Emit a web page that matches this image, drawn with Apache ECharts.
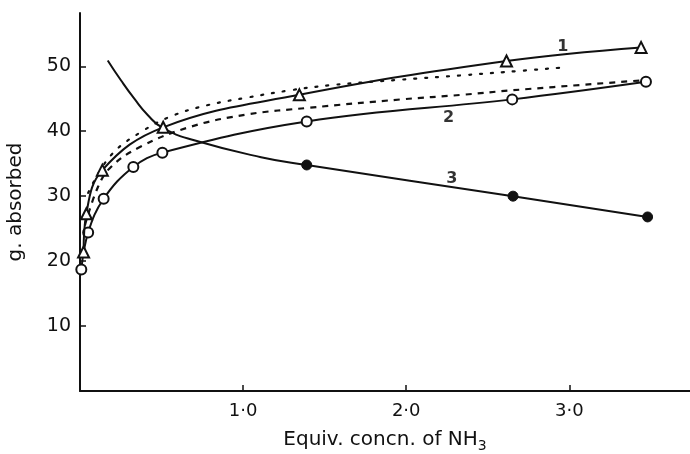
<!DOCTYPE html>
<html>
<head>
<meta charset="utf-8">
<script src="https://cdn.jsdelivr.net/npm/echarts@6/dist/echarts.min.js"></script>
<style>
  html, body { margin: 0; padding: 0; background: #fff; }
  #chart { width: 690px; height: 454px; }
</style>
</head>
<body>
<div id="chart"></div>
<script>
// values: [equiv. concn. of NH3, g. absorbed]
const curve1Pts = [[0.022, 21.4], [0.039, 27.3], [0.137, 34.0], [0.51, 40.6], [1.345, 45.6], [2.615, 50.8], [3.44, 52.9]];
const curve2Pts = [[0.008, 18.7], [0.05, 24.4], [0.145, 29.6], [0.327, 34.5], [0.505, 36.7], [1.39, 41.5], [2.65, 44.9], [3.47, 47.6]];
// curve 3: unmarked start of the curve, then the filled points
const curve3Line = [[0.17, 50.9], [0.252, 47.8], [0.333, 45.0], [0.415, 42.5], [0.507, 40.5], [0.7, 38.6], [1.11, 36.0]];
const curve3Pts = [[1.39, 34.8], [2.655, 30.0], [3.48, 26.8]];
const dottedPts = [[0.05, 30.5], [0.19, 36.3], [0.395, 40.2], [0.58, 42.5], [0.78, 44.0], [1.03, 45.2], [1.29, 46.3], [1.54, 47.1], [1.95, 47.9], [2.34, 48.6], [2.6, 49.1], [2.96, 49.8]];
const dashedPts = [[0.03, 25.5], [0.11, 31.4], [0.19, 34.5], [0.37, 37.6], [0.68, 40.7], [1.03, 42.6], [1.4, 43.6], [1.97, 44.9], [2.34, 45.6], [2.65, 46.3], [3.43, 47.8]];
const curveLabels = [['1', 2.96, 53.0], ['2', 2.26, 42.1], ['3', 2.28, 32.7]];
const xTicks = [1, 2, 3];
const yTicks = [10, 20, 30, 40, 50];

const font = 'DejaVu Sans';
const ink = '#111';

var chartDom = document.getElementById('chart');
var myChart = echarts.init(chartDom, null, { renderer: 'canvas' });

function plain(pts) {
  return pts.map((p) => ({ value: p, symbol: 'none' }));
}

var option = {
  animation: false,
  grid: { left: 80, right: 0, top: 13, bottom: 63, containLabel: false, outerBoundsMode: 'none' },
  xAxis: {
    type: 'value',
    min: 0,
    max: 3.74,
    splitLine: { show: false },
    axisLine: { lineStyle: { color: ink, width: 2 } },
    axisTick: { inside: true, length: 6, customValues: xTicks, lineStyle: { color: ink, width: 1.5 } },
    axisLabel: {
      customValues: xTicks,
      margin: 11,
      color: ink,
      fontFamily: font,
      fontSize: 18,
      formatter: (v) => v.toFixed(1).replace('.', '·'),
    },
    name: 'Equiv. concn. of NH{sub|3}',
    nameLocation: 'middle',
    nameGap: 36,
    nameTextStyle: {
      color: ink,
      fontFamily: font,
      fontSize: 20,
      rich: { sub: { fontSize: 14, fontFamily: font, color: ink, padding: [12, 0, 0, 0] } },
    },
  },
  yAxis: {
    type: 'value',
    min: 0,
    max: 58.2,
    splitLine: { show: false },
    axisLine: { lineStyle: { color: ink, width: 2 } },
    axisTick: { inside: true, length: 6, customValues: yTicks, lineStyle: { color: ink, width: 1.5 } },
    axisLabel: {
      customValues: yTicks,
      margin: 9,
      color: ink,
      fontFamily: font,
      fontSize: 19,
    },
    name: 'g. absorbed',
    nameLocation: 'middle',
    nameRotate: 90,
    nameGap: 54,
    nameTextStyle: { color: ink, fontFamily: font, fontSize: 20 },
  },
  series: [
    {
      name: 'dotted',
      type: 'line',
      smooth: 0.4,
      symbol: 'none',
      lineStyle: { color: ink, width: 2.2, type: [2, 9], cap: 'round' },
      data: dottedPts,
    },
    {
      name: 'dashed',
      type: 'line',
      smooth: 0.4,
      symbol: 'none',
      lineStyle: { color: ink, width: 2.2, type: [6, 6] },
      data: dashedPts,
    },
    {
      name: '3',
      type: 'line',
      smooth: 0.5,
      symbol: 'circle',
      symbolSize: 10,
      itemStyle: { color: ink, borderColor: ink },
      lineStyle: { color: ink, width: 2 },
      data: plain(curve3Line).concat(curve3Pts),
    },
    {
      name: '2',
      type: 'line',
      smooth: 0.4,
      symbol: 'circle',
      symbolSize: 10,
      itemStyle: { color: '#fff', borderColor: ink, borderWidth: 2 },
      lineStyle: { color: ink, width: 2 },
      data: curve2Pts,
      z: 3,
    },
    {
      name: '1',
      type: 'line',
      smooth: 0.4,
      symbol: 'triangle',
      symbolSize: 11,
      itemStyle: { color: '#fff', borderColor: ink, borderWidth: 2 },
      lineStyle: { color: ink, width: 2 },
      data: curve1Pts,
      z: 4,
    },
    {
      name: 'labels',
      type: 'scatter',
      symbol: 'circle',
      symbolSize: 1,
      itemStyle: { color: 'transparent' },
      data: curveLabels.map((l) => ({ name: l[0], value: [l[1], l[2]] })),
      label: {
        show: true,
        position: 'inside',
        formatter: (p) => p.name,
        color: '#000',
        fontFamily: font,
        fontSize: 16,
        fontWeight: 'bold',
      },
      z: 5,
    },
  ],
};

option && myChart.setOption(option);
</script>
</body>
</html>
